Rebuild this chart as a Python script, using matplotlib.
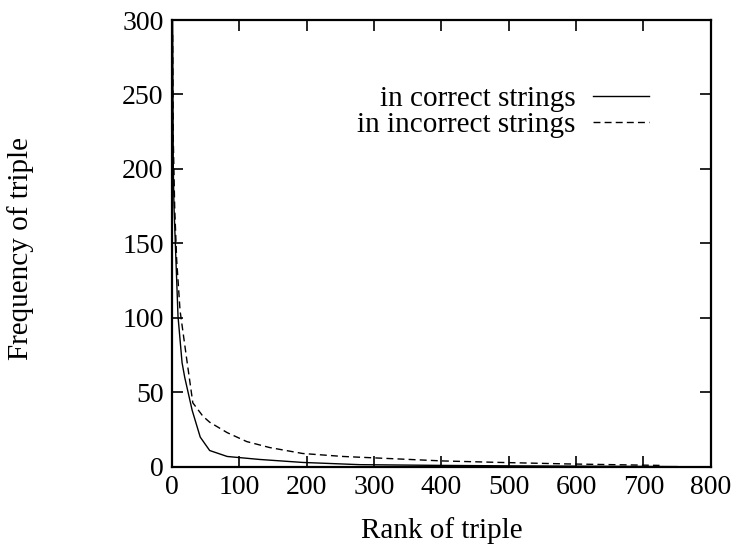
import numpy as np
from matplotlib import pyplot as plt

plt.rcParams['font.family'] = ['Liberation Serif', 'DejaVu Serif']

# frequency vs rank
rank_correct = [1, 2, 3, 5, 9, 15, 19, 30, 42, 56, 82, 130, 194, 279, 400, 500, 600, 750]
freq_correct = [300, 200, 175, 150, 101, 70, 60, 38, 20, 11, 7, 5, 3, 1.5, 1, 0.7, 0.5, 0.2]

rank_incorrect = [1, 2, 4, 7, 12, 22, 31, 46, 56, 82, 111, 145, 194, 254, 328, 402, 487, 586, 724]
freq_incorrect = [290, 220, 175, 139, 105, 72, 43, 34, 30, 23, 17, 13, 9, 7, 5.5, 4, 3, 2, 1]

fig = plt.figure(figsize=(7.38, 5.48), dpi=100)
ax = fig.add_axes([0.233, 0.148, 0.73, 0.8155])

ax.plot(rank_correct, freq_correct, 'k-', lw=1.0, label='in correct strings')
ax.plot(rank_incorrect, freq_incorrect, 'k', ls=(0, (5, 3)), lw=1.0, label='in incorrect strings')

ax.set_xlim(0, 800)
ax.set_ylim(0, 300)
ax.set_xticks(np.arange(0, 801, 100))
ax.set_yticks(np.arange(0, 301, 50))
ax.tick_params(direction='in', length=8, width=1.2, top=True, right=True, labelsize=20, pad=6)
for s in ax.spines.values():
    s.set_linewidth(1.6)

ax.set_xlabel('Rank of triple', fontsize=21, labelpad=12)
fig.text(0.028, 0.547, 'Frequency of triple', fontsize=21, rotation=90, ha='center', va='center')

ax.legend(loc='upper right', bbox_to_anchor=(0.912, 0.886), frameon=False, markerfirst=False,
          fontsize=21, handlelength=1.9, handletextpad=0.6, labelspacing=0.0, borderpad=0)

fig.savefig('out.png', dpi=100)
